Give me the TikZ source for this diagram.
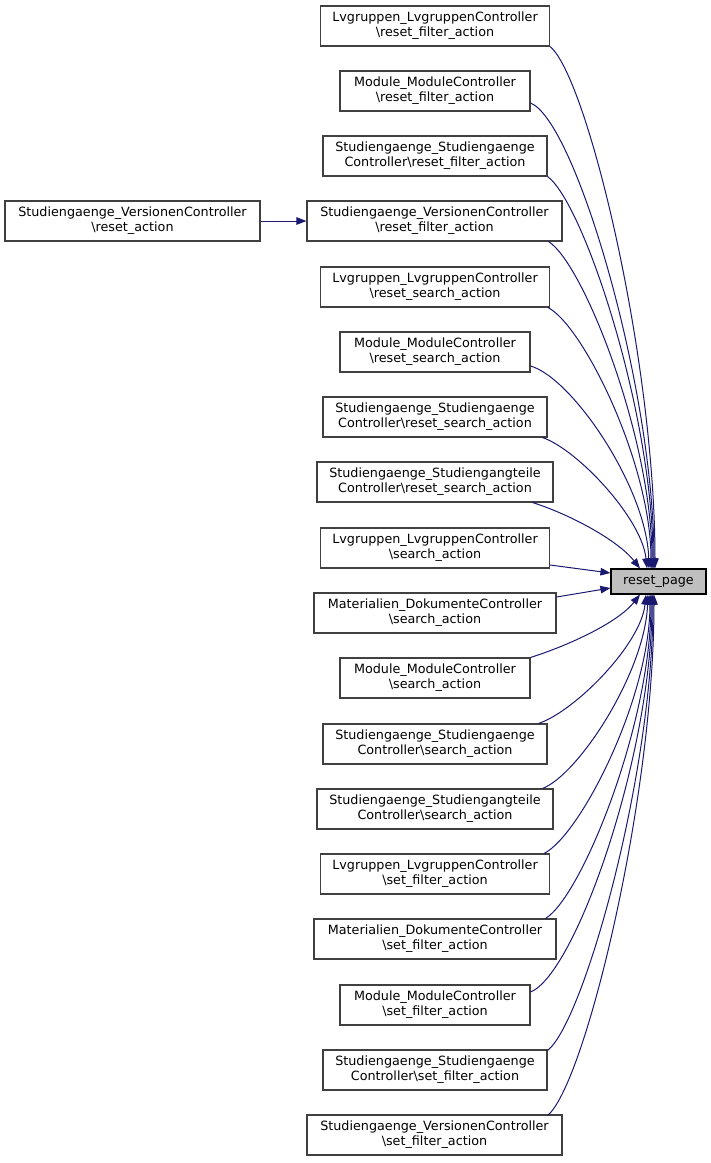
\documentclass[tikz,border=0pt]{standalone}
\usepackage{fontspec}
\setmainfont{DejaVu Sans}
\usetikzlibrary{calc,arrows.meta}
\definecolor{edgeblue}{HTML}{191970}
\definecolor{boxline}{HTML}{404040}
\definecolor{hlfill}{HTML}{BFBFBF}
\tikzset{
  box/.style={draw=boxline, line width=1.1pt, fill=white, inner sep=0pt, minimum height=40pt, align=center, font=\fontsize{12.75}{15}\selectfont},
  wL/.style={minimum width=229pt}, wM/.style={minimum width=190pt},
  wS/.style={minimum width=224pt}, wV/.style={minimum width=255pt},
  wT/.style={minimum width=236pt}, wD/.style={minimum width=242pt},
  hlbox/.style={draw=black, line width=1.1pt, fill=hlfill, inner sep=0pt, minimum width=95pt, minimum height=25pt, font=\fontsize{12.75}{15}\selectfont},
  calls/.style={draw=edgeblue, line width=1pt, -{Triangle[length=10pt,width=7.5pt]}},
}
\newcommand{\bs}{\textbackslash}
\begin{document}
\begin{tikzpicture}[x=1pt,y=-1pt]
\useasboundingbox (0,0) rectangle (711,1163);
\node[hlbox] (rp) at (658.5,581.5) {reset\_page};
\node[box,wL] (n1) at (435,26) {Lvgruppen\_LvgruppenController\\\bs reset\_filter\_action};
\node[box,wM] (n2) at (435,91) {Module\_ModuleController\\\bs reset\_filter\_action};
\node[box,wS] (n3) at (435,156) {Studiengaenge\_Studiengaenge\\Controller\bs reset\_filter\_action};
\node[box,wV] (n4) at (434.5,221) {Studiengaenge\_VersionenController\\\bs reset\_filter\_action};
\node[box,wL] (n5) at (435,287) {Lvgruppen\_LvgruppenController\\\bs reset\_search\_action};
\node[box,wM] (n6) at (435,352) {Module\_ModuleController\\\bs reset\_search\_action};
\node[box,wS] (n7) at (435,417) {Studiengaenge\_Studiengaenge\\Controller\bs reset\_search\_action};
\node[box,wT] (n8) at (435,482) {Studiengaenge\_Studiengangteile\\Controller\bs reset\_search\_action};
\node[box,wL] (n9) at (435,548) {Lvgruppen\_LvgruppenController\\\bs search\_action};
\node[box,wD] (n10) at (435,613) {Materialien\_DokumenteController\\\bs search\_action};
\node[box,wM] (n11) at (435,678) {Module\_ModuleController\\\bs search\_action};
\node[box,wS] (n12) at (435,744) {Studiengaenge\_Studiengaenge\\Controller\bs search\_action};
\node[box,wT] (n13) at (435,809) {Studiengaenge\_Studiengangteile\\Controller\bs search\_action};
\node[box,wL] (n14) at (435,874) {Lvgruppen\_LvgruppenController\\\bs set\_filter\_action};
\node[box,wD] (n15) at (435,939) {Materialien\_DokumenteController\\\bs set\_filter\_action};
\node[box,wM] (n16) at (435,1005) {Module\_ModuleController\\\bs set\_filter\_action};
\node[box,wS] (n17) at (435,1070) {Studiengaenge\_Studiengaenge\\Controller\bs set\_filter\_action};
\node[box,wV] (n18) at (434.5,1135) {Studiengaenge\_VersionenController\\\bs set\_filter\_action};
\node[box,wV] (lv) at (132.5,221) {Studiengaenge\_VersionenController\\\bs reset\_action};
% edges
\draw[calls] (lv.east) -- (n4.west);
\draw[calls] (n1.south east) .. controls +(37,30) and +(0,-210) .. ($(rp.north)+(-3.5,0)$);
\draw[calls] ($(n2.east)+(0,12)$) .. controls +(45,18) and +(0,-180) .. ($(rp.north)+(-4.5,0)$);
\draw[calls] (n3.south east) .. controls +(36,26) and +(0,-155) .. ($(rp.north)+(-5.5,0)$);
\draw[calls] ($(n4.south east)+(-14,0)$) .. controls +(35,22) and +(0,-130) .. ($(rp.north)+(-6.5,0)$);
\draw[calls] ($(n5.south east)+(-2,0)$) .. controls +(35,18) and +(0,-105) .. ($(rp.north)+(-7.5,0)$);
\draw[calls] ($(n6.east)+(0,14)$) .. controls +(42,12) and +(-2,-80) .. ($(rp.north)+(-9.5,0)$);
\draw[calls] ($(n7.south east)+(-5,0)$) .. controls +(35,12) and +(-5,-50) .. ($(rp.north)+(-11.5,0)$);
\draw[calls] ($(n8.south east)+(-21,0)$) .. controls +(38,12) and +(-22,-28) .. ($(rp.north)+(-18.5,0)$);
\draw[calls] ($(n9.east)+(0,17)$) -- ($(rp.west)+(0,-8.5)$);
\draw[calls] ($(n10.east)+(0,-16)$) -- ($(rp.west)+(0,6.5)$);
\draw[calls] (n11.north east) .. controls +(38,-12) and +(-22,28) .. ($(rp.south)+(-18.5,0)$);
\draw[calls] ($(n12.north east)+(-9,0)$) .. controls +(36,-12) and +(-5,50) .. ($(rp.south)+(-12.5,0)$);
\draw[calls] ($(n13.north east)+(-11,0)$) .. controls +(36,-14) and +(-3,78) .. ($(rp.south)+(-10.5,0)$);
\draw[calls] ($(n14.north east)+(-6,0)$) .. controls +(36,-18) and +(0,104) .. ($(rp.south)+(-8.5,0)$);
\draw[calls] ($(n15.north east)+(-11,0)$) .. controls +(36,-22) and +(0,130) .. ($(rp.south)+(-7.5,0)$);
\draw[calls] ($(n16.east)+(0,-13)$) .. controls +(45,-18) and +(0,160) .. ($(rp.south)+(-6.5,0)$);
\draw[calls] ($(n17.north east)+(0,1)$) .. controls +(36,-28) and +(0,180) .. ($(rp.south)+(-5.5,0)$);
\draw[calls] ($(n18.north east)+(-15,1)$) .. controls +(37,-30) and +(0,205) .. ($(rp.south)+(-4.5,0)$);
\end{tikzpicture}
\end{document}
